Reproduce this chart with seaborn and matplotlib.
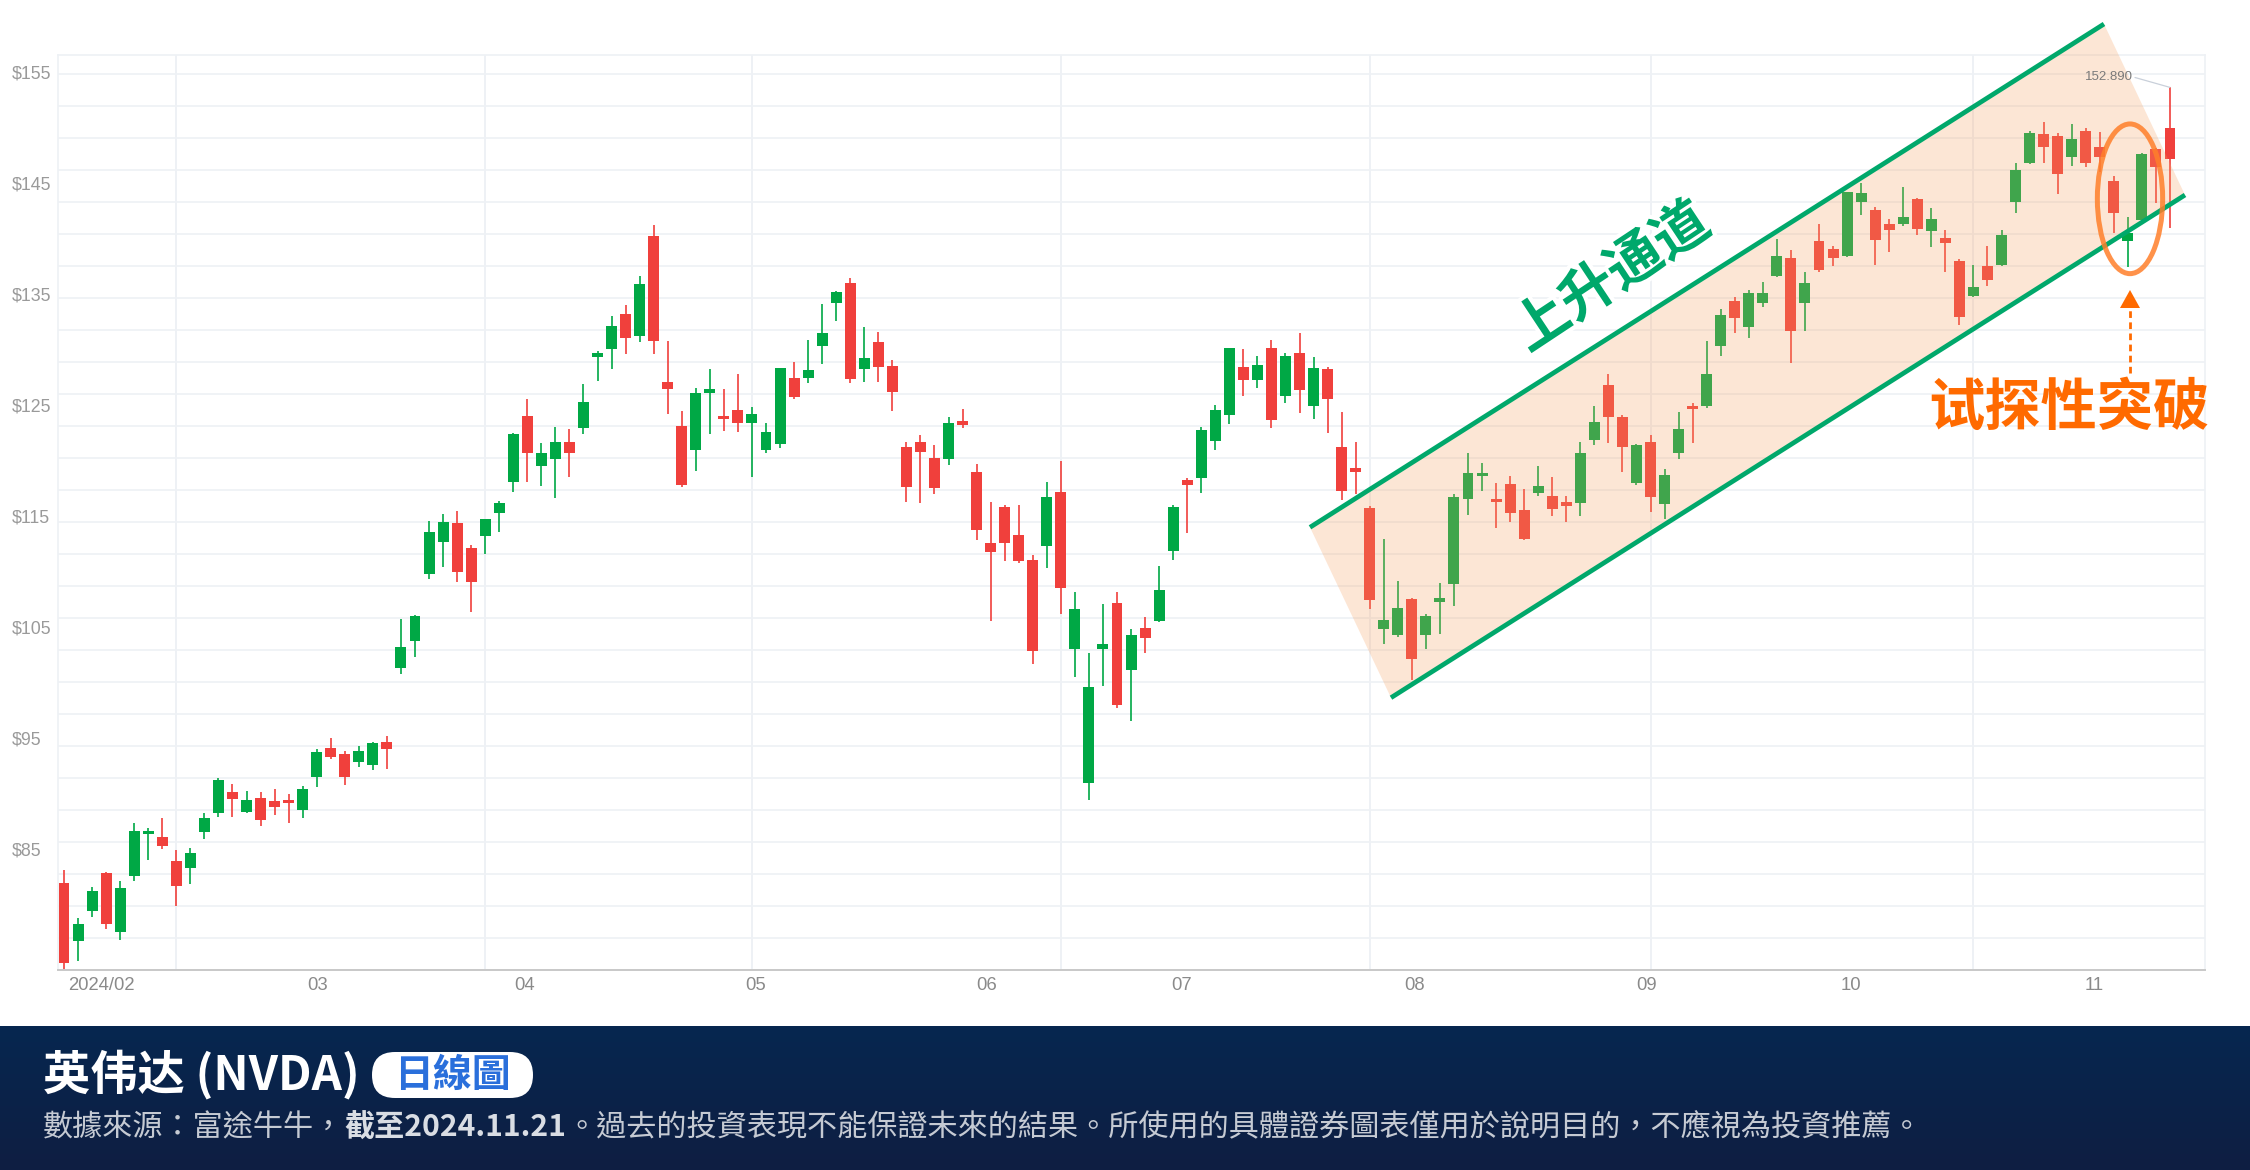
import numpy as np
import pandas as pd
import matplotlib
matplotlib.use("Agg")
import matplotlib.pyplot as plt
import seaborn as sns
from matplotlib.patches import Polygon, Ellipse, FancyBboxPatch
from matplotlib.transforms import IdentityTransform
import matplotlib.patheffects as pe

# ---------------- data ----------------
open_ = [81.94, 76.77, 79.41, 82.84, 77.52, 82.63, 86.41, 86.14, 83.92, 83.29,
         86.59, 88.27, 90.14, 88.39, 89.59, 89.35, 89.44, 88.51, 91.49, 94.13,
         93.59, 92.84, 92.60, 94.67, 101.36, 103.80, 109.80, 112.65, 114.37, 112.17,
         113.23, 115.33, 118.09, 124.03, 119.53, 120.19, 121.69, 122.92, 129.38, 130.07,
         133.22, 131.24, 140.22, 127.13, 123.13, 120.97, 126.08, 124.03, 124.57, 123.43,
         120.97, 121.51, 127.46, 127.50, 130.37, 134.18, 136.02, 128.27, 130.66, 128.53,
         121.20, 121.65, 120.21, 120.14, 123.63, 118.97, 112.61, 115.84, 113.29, 111.10,
         112.32, 117.20, 103.03, 90.93, 103.03, 107.16, 101.15, 104.93, 105.54, 111.90,
         118.29, 118.45, 121.75, 124.16, 128.44, 127.27, 130.13, 125.87, 129.68, 124.97,
         128.24, 121.27, 119.37, 115.71, 104.82, 104.33, 107.52, 104.27, 107.25, 108.90,
         116.55, 118.65, 116.58, 117.91, 115.57, 117.07, 116.82, 116.28, 116.22, 121.87,
         126.80, 123.92, 117.97, 121.72, 116.07, 120.73, 124.96, 124.93, 130.36, 134.36,
         132.08, 134.18, 136.65, 138.24, 134.18, 139.80, 139.11, 138.48, 143.34, 142.59,
         141.33, 141.33, 143.56, 140.70, 140.04, 138.02, 134.87, 137.54, 137.63, 143.35,
         146.85, 149.41, 149.29, 147.36, 149.74, 148.30, 145.18, 139.83, 141.70, 148.09,
         149.95]
high = [83.14, 78.78, 81.58, 82.93, 82.15, 87.34, 86.89, 87.82, 84.94, 85.15,
        88.24, 91.46, 90.89, 90.23, 90.14, 90.47, 90.02, 90.68, 94.01, 95.00,
        93.89, 94.31, 94.64, 95.21, 105.75, 106.08, 114.61, 115.18, 115.51, 112.38,
        114.73, 116.38, 122.48, 125.56, 121.57, 123.04, 122.83, 126.92, 129.89, 133.01,
        134.00, 136.65, 141.21, 130.76, 124.45, 126.59, 128.24, 126.44, 127.79, 124.82,
        123.37, 128.36, 128.90, 130.89, 134.12, 135.31, 136.44, 132.08, 131.56, 129.08,
        121.65, 122.33, 121.43, 123.95, 124.66, 119.75, 116.29, 116.00, 116.00, 111.48,
        118.10, 119.97, 108.16, 102.64, 107.06, 108.19, 104.83, 105.93, 110.51, 116.03,
        118.45, 123.04, 125.03, 130.13, 130.04, 129.47, 130.88, 129.68, 131.47, 129.32,
        128.48, 124.36, 121.66, 115.89, 112.95, 109.20, 107.67, 106.20, 108.96, 116.98,
        120.67, 119.83, 118.03, 118.63, 117.46, 119.53, 118.51, 116.85, 121.72, 124.93,
        127.82, 124.13, 121.51, 122.32, 119.25, 124.37, 125.18, 130.79, 133.67, 134.78,
        135.38, 136.13, 139.98, 138.99, 136.97, 141.33, 139.35, 144.24, 144.99, 142.89,
        141.75, 144.70, 143.65, 142.75, 140.79, 138.14, 137.66, 139.35, 140.79, 146.80,
        149.74, 150.49, 149.56, 150.31, 149.95, 149.65, 145.66, 141.99, 147.76, 148.15,
        153.64]
low = [74.13, 74.97, 78.93, 77.85, 76.86, 82.15, 84.04, 85.03, 79.92, 81.91,
       85.93, 87.94, 87.94, 88.30, 87.13, 88.12, 87.34, 87.82, 90.59, 93.14,
       90.80, 92.45, 92.15, 92.24, 100.79, 102.35, 109.32, 110.46, 109.11, 106.34,
       111.57, 113.62, 117.19, 118.09, 117.76, 116.68, 118.51, 122.38, 127.19, 128.27,
       129.59, 130.73, 129.62, 124.19, 117.67, 119.11, 122.38, 122.71, 122.62, 118.54,
       120.73, 121.18, 125.59, 127.01, 128.69, 132.57, 127.01, 127.14, 127.14, 124.47,
       116.32, 116.16, 117.01, 119.59, 122.92, 112.87, 105.55, 111.00, 110.78, 101.67,
       110.35, 106.16, 100.55, 89.41, 99.67, 97.73, 96.57, 102.67, 105.45, 111.03,
       113.52, 117.13, 120.97, 123.28, 125.83, 126.58, 122.98, 125.18, 124.28, 123.73,
       122.53, 116.47, 117.00, 106.67, 103.50, 104.15, 100.25, 103.01, 104.36, 106.92,
       115.11, 117.30, 113.99, 114.45, 112.87, 116.85, 115.06, 114.51, 115.06, 121.42,
       121.63, 119.02, 117.82, 115.41, 114.75, 120.19, 121.63, 124.75, 129.46, 131.48,
       131.03, 133.82, 136.59, 128.78, 131.72, 137.04, 137.58, 138.33, 142.14, 137.64,
       138.84, 141.15, 140.34, 139.23, 137.01, 132.23, 134.75, 135.77, 137.54, 142.35,
       146.70, 146.79, 144.04, 146.58, 146.49, 146.04, 140.48, 137.48, 141.64, 143.20,
       140.96]
close = [74.73, 78.24, 81.25, 78.30, 81.49, 86.68, 86.65, 85.30, 81.73, 84.70,
         87.82, 91.25, 89.50, 89.44, 87.61, 88.84, 89.17, 90.47, 93.80, 93.35,
         91.49, 93.89, 94.61, 94.04, 103.20, 105.98, 113.59, 114.49, 110.01, 109.11,
         114.73, 116.17, 122.38, 120.73, 120.67, 121.69, 120.73, 125.26, 129.68, 132.11,
         131.06, 135.89, 130.82, 126.50, 117.82, 126.14, 126.44, 123.73, 123.43, 124.25,
         122.59, 128.36, 125.71, 128.21, 131.53, 135.21, 127.37, 129.27, 128.46, 126.24,
         117.68, 120.78, 117.56, 123.43, 123.24, 113.78, 111.81, 112.58, 111.00, 102.86,
         116.71, 108.52, 106.61, 99.61, 103.51, 97.99, 104.28, 104.00, 108.38, 115.84,
         117.81, 122.75, 124.58, 130.13, 127.27, 128.60, 123.64, 129.47, 126.38, 128.33,
         125.54, 117.31, 118.98, 107.45, 105.63, 106.74, 102.11, 105.99, 107.64, 116.71,
         118.93, 118.93, 116.31, 115.33, 112.96, 117.73, 115.66, 115.95, 120.67, 123.46,
         123.98, 121.21, 121.39, 116.70, 118.72, 122.83, 124.63, 127.81, 133.13, 132.83,
         135.08, 135.08, 138.42, 131.72, 135.98, 137.19, 138.30, 144.18, 144.09, 139.89,
         140.79, 141.99, 140.88, 141.78, 139.59, 132.98, 135.68, 136.28, 140.34, 146.20,
         149.50, 148.24, 145.81, 148.99, 146.79, 147.39, 142.34, 140.55, 147.61, 146.49,
         147.16]

y_tick_values = [85, 95, 105, 115, 125, 135, 145, 155]
y_tick_labels = ["$85", "$95", "$105", "$115", "$125", "$135", "$145", "$155"]
x_tick_labels = ["2024/02", "03", "04", "05", "06", "07", "08", "09", "10", "11"]
month_start_idx = [8, 30, 49, 71, 93, 113, 136]
high_label = "152.890"

title_text = "英伟达 (NVDA)"
badge_text = "日線圖"
sub_part1 = "數據來源：富途牛牛，"
sub_part2 = "截至2024.11.21"
sub_part3 = "。過去的投資表現不能保證未來的結果。所使用的具體證券圖表僅用於說明目的，不應視為投資推薦。"
channel_text = "上升通道"
breakout_text = "试探性突破"

# ---------------- layout ----------------
W, H = 2250, 1170
PL, PR, PT, PB = 58, 2205, 55, 970          # plot frame in pixels
X0, DX = 64.0, 14.04                         # pixel x of first candle, spacing
Y95, PXU = 738.3, 11.1                       # pixel y of $95, pixels per $

def px_to_x(px):
    return (px - X0) / DX

def py_to_p(py):
    return 95 + (Y95 - py) / PXU

UP, DOWN = "#00A845", "#F0403C"
CH_GREEN = "#00A86B"
ORANGE = "#FF6A00"

sns.set_theme(style="white")
plt.rcParams["font.family"] = ["Noto Sans CJK SC", "DejaVu Sans"]

fig = plt.figure(figsize=(W / 100, H / 100), dpi=100)
fig.patch.set_facecolor("white")
ax = fig.add_axes([PL / W, 1 - PB / H, (PR - PL) / W, (PB - PT) / H])
ax.set_facecolor("white")

df = pd.DataFrame({"x": np.arange(len(close)), "open": open_, "high": high,
                   "low": low, "close": close})
df["up"] = df["close"] >= df["open"]
colors = np.where(df["up"], UP, DOWN)

ax.set_xlim(px_to_x(PL), px_to_x(PR))
ax.set_ylim(py_to_p(PB), py_to_p(PT))

# grid
grid_c = "#EEF1F5"
for k in range(1, 29):
    ax.axhline(py_to_p(PB - 32.0 * k), color=grid_c, lw=1.2, zorder=0)
for m in month_start_idx:
    ax.axvline(m, color=grid_c, lw=1.4, zorder=0)

# candles
ax.vlines(df["x"], df["low"], df["high"], colors=colors, lw=1.2, zorder=2)
body = np.maximum((df["close"] - df["open"]).abs(), 0.13)
ax.bar(df["x"], body, bottom=np.minimum(df["open"], df["close"]),
       width=0.78, color=colors, linewidth=0, zorder=3)

# channel
u0 = (px_to_x(1310), py_to_p(527.3)); u1 = (px_to_x(2104), py_to_p(24))
l0 = (px_to_x(1391), py_to_p(697.7)); l1 = (px_to_x(2185), py_to_p(195))
ax.add_patch(Polygon([u0, u1, l1, l0], closed=True, fc="#F7A060", alpha=0.263,
                     ec="none", zorder=4, clip_on=False))
ch = pd.DataFrame({"x": [u0[0], u1[0], np.nan, l0[0], l1[0]],
                   "y": [u0[1], u1[1], np.nan, l0[1], l1[1]]})
ax.plot(ch["x"], ch["y"], color=CH_GREEN, lw=3.4, solid_capstyle="butt",
        zorder=5, clip_on=False)

ax.text(px_to_x(1612), py_to_p(278), channel_text, rotation=33.5,
        rotation_mode="anchor", ha="center", va="center", fontsize=40,
        fontweight="bold", color=CH_GREEN, zorder=7,
        path_effects=[pe.withStroke(linewidth=6, foreground="white")])

# ellipse + arrow + label
ax.add_patch(Ellipse((px_to_x(2130), py_to_p(198.8)), width=65.3 / DX,
                     height=149.7 / PXU, fill=False, ec="#FF7F2A", lw=3.6,
                     alpha=0.85, zorder=8, clip_on=False))
ax.plot([px_to_x(2130), px_to_x(2130)], [py_to_p(373), py_to_p(308)],
        color=ORANGE, lw=2.0, dashes=(2.4, 1.6), zorder=8, clip_on=False)
ax.add_patch(Polygon([(px_to_x(2120), py_to_p(308)), (px_to_x(2140), py_to_p(308)),
                      (px_to_x(2130), py_to_p(290))], closed=True, fc=ORANGE,
                     ec="none", zorder=8, clip_on=False))
ax.text(px_to_x(2069), py_to_p(408), breakout_text, ha="center", va="center",
        fontsize=40.5, fontweight="heavy", color=ORANGE, zorder=9, clip_on=False)

ax.text(px_to_x(2133), py_to_p(76.5), high_label, ha="right", va="center",
        fontsize=9.5, color="#7A7A7A", family=["Liberation Sans", "DejaVu Sans"], zorder=9)
ax.plot([px_to_x(2135), df["x"].iloc[-1]], [py_to_p(77.5), df["high"].iloc[-1]],
        color="#C9D0DA", lw=0.9, zorder=9)

# axes styling
for s in ["top", "left", "right"]:
    ax.spines[s].set_color(grid_c); ax.spines[s].set_linewidth(1.2)
ax.spines["bottom"].set_color("#C8C8C8"); ax.spines["bottom"].set_linewidth(1.4)

ax.set_yticks(y_tick_values, y_tick_labels)
ax.tick_params(axis="y", length=0, pad=33.1, labelsize=12.8, labelcolor="#9A9A9A")
for lab in ax.get_yticklabels():
    lab.set_ha("left"); lab.set_family(["Liberation Sans", "DejaVu Sans"])

x_tick_pos = [px_to_x(p) for p in [101.7, 317.3, 525, 756, 987, 1182, 1415, 1647, 1851, 2094]]
ax.set_xticks(x_tick_pos, x_tick_labels)
ax.tick_params(axis="x", length=0, pad=5, labelsize=13.3, labelcolor="#8A8A8A")
for lab in ax.get_xticklabels():
    lab.set_family(["Liberation Sans", "DejaVu Sans"])
ax.grid(False)

# footer
FT = 1026
axf = fig.add_axes([0, 0, 1, (H - FT) / H])
top_c = np.array([6, 39, 80]) / 255.0
bot_c = np.array([15, 30, 66]) / 255.0
t = np.linspace(0, 1, 200)[:, None]
grad = (top_c[None, :] * (1 - t) + bot_c[None, :] * t)[:, None, :]
grad = np.repeat(grad, 4, axis=1)
axf.imshow(grad, aspect="auto", extent=[0, 1, 0, 1], interpolation="bilinear")
axf.set_axis_off()

fig.text(43 / W, 1 - 1075 / H, title_text, fontsize=34, color="white",
         fontweight="bold", ha="left", va="center",
         family=["Noto Sans CJK SC", "DejaVu Sans"])
fig.add_artist(FancyBboxPatch((372, H - 1098), 161, 46,
                              boxstyle="round,pad=0,rounding_size=23",
                              transform=IdentityTransform(), fc="white", ec="none"))
fig.text(452.5 / W, 1 - 1075 / H, badge_text, fontsize=28, color="#2A6FDB",
         fontweight="bold", ha="center", va="center",
         family=["Noto Sans CJK TC", "DejaVu Sans"])

r = fig.canvas.get_renderer()
ysub = 1 - 1128 / H
t1 = fig.text(43 / W, ysub, sub_part1, fontsize=21.7, color="#C5CAD3",
              ha="left", va="center", family=["Noto Sans CJK TC", "DejaVu Sans"])
bb = t1.get_window_extent(renderer=r)
t2 = fig.text(bb.x1 / W, ysub, sub_part2, fontsize=21.7, color="#D9DDE4",
              fontweight="bold", ha="left", va="center",
              family=["Noto Sans CJK TC", "DejaVu Sans"])
bb = t2.get_window_extent(renderer=r)
fig.text(bb.x1 / W, ysub, sub_part3, fontsize=21.7, color="#C5CAD3",
         ha="left", va="center", family=["Noto Sans CJK TC", "DejaVu Sans"])

fig.savefig("out.png", dpi=100, facecolor="white")
